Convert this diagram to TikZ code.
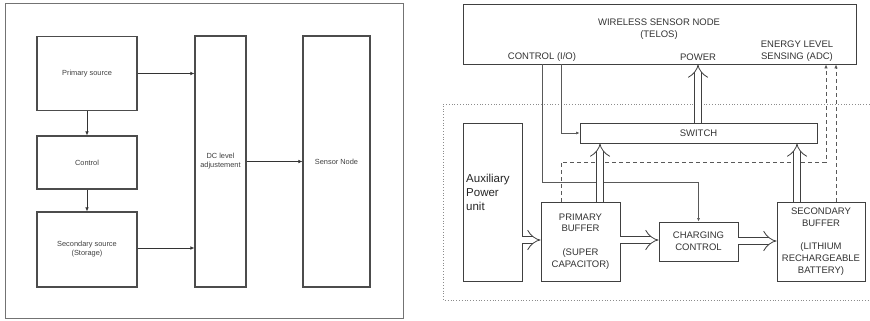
\documentclass[tikz,border=0pt]{standalone}
\usepackage{fontspec}
\setmainfont{Liberation Sans}
\usetikzlibrary{arrows.meta,calc}
\begin{document}
\begin{tikzpicture}[x=1pt,y=-1pt,
  lbox/.style={draw=black!70,line width=1.1pt,inner sep=0pt,font=\fontsize{7.4}{9}\selectfont,text=black!75,align=center},
  larr/.style={draw=black!80,line width=0.7pt,-{Latex[length=4pt,width=3.5pt]}},
  rbox/.style={draw=black!75,line width=0.9pt,inner sep=0pt,font=\fontsize{9.5}{11.8}\selectfont,text=black!80,align=center},
  rtxt/.style={inner sep=0pt,font=\fontsize{9.5}{11.8}\selectfont,text=black!80,align=center},
  thinarr/.style={draw=black!65,line width=0.6pt,-{Latex[length=3.5pt,width=3pt]}},
  dsh/.style={draw=black!65,line width=0.9pt,dash pattern=on 4pt off 3pt,-{Latex[length=4pt,width=3.5pt]}},
  dbl/.style={draw=black!75,line width=0.8pt,double=white,double distance=6.5pt,-{Implies[length=5pt,width=14pt]}},
]
\useasboundingbox (0,0) rectangle (870,321);
\fill[white] (0,0) rectangle (870,321);

% ---------------- left diagram ----------------
\draw[black!55,line width=1pt] (5,3.5) rectangle (403,318);
\node[lbox,minimum width=100pt,minimum height=74pt] (ps) at (87,73.5) {Primary source};
\node[lbox,minimum width=100pt,minimum height=53pt] (ctl) at (87,162.5) {Control};
\node[lbox,minimum width=100pt,minimum height=75pt] (ss) at (87,249.5) {Secondary source\\(Storage)};
\node[lbox,minimum width=51pt,minimum height=251pt] (dc) at (220.5,161.5) {DC level\\adjustement};
\node[lbox,minimum width=67pt,minimum height=251pt] (sn) at (336.5,161.5) {Sensor Node};

\draw[larr] (ps.east) -- (ps.east -| dc.west);
\draw[larr] ($(ss.east)+(0,-1.5)$) -- ($(ss.east -| dc.west)+(0,-1.5)$);
\draw[larr] (dc.east) -- (dc.east -| sn.west);
\draw[larr] (ps.south) -- (ctl.north);
\draw[larr] (ctl.south) -- (ss.north);

% ---------------- right diagram ----------------
\draw[black!45,line width=0.8pt,dotted] (869.5,104) -- (443,104) -- (443,300) -- (869.5,300);

\node[rbox,minimum width=393pt,minimum height=60pt] (wsn) at (659.5,34) {};
\node[rtxt] (wsnt) at (659,29) {WIRELESS SENSOR NODE\\(TELOS)};
\node[rtxt] (ctlio) at (542,57) {CONTROL (I/O)};
\node[rtxt] (pwr) at (698,57) {POWER};
\node[rtxt] (enl) at (797,51) {ENERGY LEVEL\\SENSING (ADC)};

\node[rbox,minimum width=237pt,minimum height=20pt] (sw) at (698.5,133) {SWITCH};
\node[rbox,minimum width=59pt,minimum height=158pt] (aux) at (492.5,202) {};
\node[inner sep=0pt,anchor=west,align=left,font=\fontsize{11.5}{14}\selectfont,text=black!85] (auxt) at (466,192) {Auxiliary\\Power\\unit};
\node[rbox,minimum width=79pt,minimum height=79pt] (pb) at (580.5,241.5) {PRIMARY\\BUFFER\\[11.8pt](SUPER\\CAPACITOR)};
\node[rbox,minimum width=79pt,minimum height=39pt] (cc) at (698.5,241.5) {CHARGING\\CONTROL};
\node[rbox,minimum width=88pt,minimum height=79pt] (sb) at (821,241.5) {SECONDARY\\BUFFER\\[11.8pt](LITHIUM\\RECHARGEABLE\\BATTERY)};

\coordinate (xa) at (542,0);
\coordinate (xb) at (561,0);
\coordinate (xc) at (600,0);
\coordinate (xd) at (797,0);
\coordinate (xe) at (826,162);
\coordinate (xf) at (836,0);
\coordinate (ya) at (0,182);
\coordinate (yb) at (0,240);
\coordinate (yc) at (0,241);

% control lines
\draw[thinarr] (wsn.south -| xa) |- (ya -| xa) -| (cc.north);
\draw[thinarr] (wsn.south -| xb) |- (sw.west);

% dashed sensing lines
\draw[dsh] (pb.north -| xb) |- (xe) -- (wsn.south -| xe);
\draw[dsh] (sb.north -| xf) -- (wsn.south -| xf);

% power arrows
\draw[dbl] (sw.north -| pwr) -- (wsn.south -| pwr);
\draw[dbl] (pb.north -| xc) -- (sw.south -| xc);
\draw[dbl] (sb.north -| xd) -- (sw.south -| xd);
\draw[dbl] (yb -| aux.east) -- (yb -| pb.west);
\draw[dbl] (yb -| pb.east) -- (yb -| cc.west);
\draw[dbl] (yc -| cc.east) -- (yc -| sb.west);
\end{tikzpicture}
\end{document}
